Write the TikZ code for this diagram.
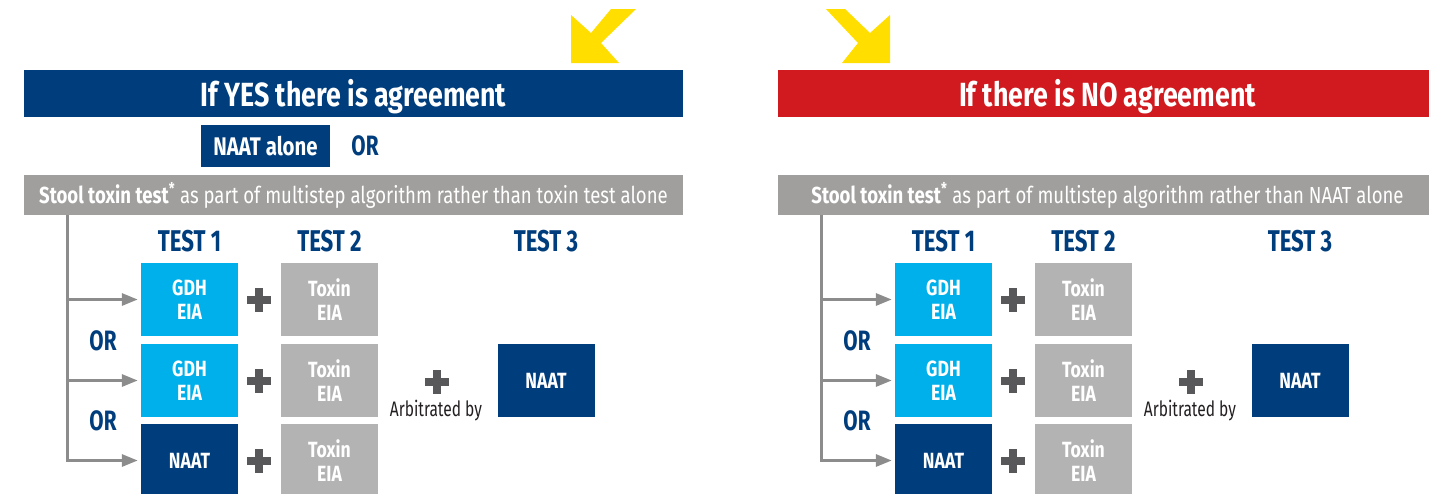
\documentclass[tikz,border=0pt]{standalone}
\usepackage{fontspec}
\setmainfont{Fira Sans}[FakeStretch=0.74]
\newfontfamily\widefont{Fira Sans}[FakeStretch=0.8]
\usetikzlibrary{arrows.meta}

\definecolor{navy}{HTML}{003D7C}
\definecolor{alarm}{HTML}{D01A1F}
\definecolor{sky}{HTML}{00B0EA}
\definecolor{bandgray}{HTML}{A09F9D}
\definecolor{boxgray}{HTML}{B3B3B3}
\definecolor{plusgray}{HTML}{58585A}
\definecolor{linegray}{HTML}{8C8C8C}
\definecolor{sun}{HTML}{FFDE00}
\definecolor{ink}{HTML}{231F20}

% one panel of the decision chart: #1 name prefix, #2 horizontal offset,
% #3 heading, #4 heading colour, #5 text of the grey band
\newcommand\testpanel[5]{%
\begin{scope}[xshift=#2]
  \node[heading, fill=#4] (#1-title) at (353.5,93.5) {#3};
  \node[band] (#1-band) at (353.5,195) {#5};
  \node[testhead] (#1-h1) at (189.5,241) {TEST 1};
  \node[testhead] (#1-h2) at (329.5,241) {TEST 2};
  \node[testhead] (#1-h3) at (546,241) {TEST 3};
  \node[gdhbox]  (#1-a1) at (189.5,299.5) {GDH\\EIA};
  \node[toxbox]  (#1-b1) at (329.5,299.5) {Toxin\\EIA};
  \node[gdhbox]  (#1-a2) at (189.5,380.5) {GDH\\EIA};
  \node[toxbox]  (#1-b2) at (329.5,380.5) {Toxin\\EIA};
  \node[naatbox] (#1-a3) at (189.5,460.5) {NAAT};
  \node[toxbox]  (#1-b3) at (329.5,460.5) {Toxin\\EIA};
  \node[naatbox] (#1-c2) at (546,380.5) {NAAT};
  \node[plussign] (#1-p1) at (259,300) {};
  \node[plussign] (#1-p2) at (259,381) {};
  \node[plussign] (#1-p3) at (259,461) {};
  \node[plussign] (#1-pm) at (437,382) {};
  \node[arb] (#1-arb) at (436,416) {Arbitrated by};
  \node[ortext] (#1-or1) at (103,341) {OR};
  \node[ortext] (#1-or2) at (103,421) {OR};
  \coordinate (#1-root) at (67,215);
  \draw[flow] (#1-root) |- (#1-a3.west);
  \draw[flow] (#1-root |- #1-a1.west) -- (#1-a1.west);
  \draw[flow] (#1-root |- #1-a2.west) -- (#1-a2.west);
\end{scope}}

\begin{document}
\begin{tikzpicture}[x=1pt, y=-1pt,
  heading/.style={minimum width=659pt, minimum height=47pt, inner sep=0pt,
    text height=25pt, text depth=0pt,
    text=white, font=\widefont\bfseries\fontsize{33.5}{36}\selectfont},
  band/.style={minimum width=659pt, minimum height=40pt, inner sep=0pt,
    fill=bandgray, text=white, font=\widefont\fontsize{23.2}{26}\selectfont},
  testhead/.style={text=navy, inner sep=0pt, font=\bfseries\fontsize{30}{32}\selectfont},
  ortext/.style={text=navy, inner sep=0pt, font=\bfseries\fontsize{28}{30}\selectfont},
  arb/.style={anchor=base, inner sep=0pt, text=ink, font=\fontsize{21}{24}\selectfont},
  box/.style={minimum width=97pt, minimum height=73pt, inner sep=0pt, align=center,
    text=white, font=\widefont\bfseries\fontsize{22}{24}\selectfont},
  gdhbox/.style={box, fill=sky},
  toxbox/.style={box, fill=boxgray},
  naatbox/.style={box, fill=navy},
  plussign/.style={minimum size=24pt, inner sep=0pt,
    path picture={
      \fill[plusgray] ([xshift=-12pt,yshift=-4pt]path picture bounding box.center)
        rectangle ([xshift=12pt,yshift=4pt]path picture bounding box.center);
      \fill[plusgray] ([xshift=-4pt,yshift=-12pt]path picture bounding box.center)
        rectangle ([xshift=4pt,yshift=12pt]path picture bounding box.center);}},
  flow/.style={draw=linegray, line width=3pt, shorten >=3pt,
    -{Triangle[length=16pt,width=12pt]}}]
\useasboundingbox (0,0) rectangle (1429,493);

% yellow pointers into the two outcomes
\fill[sun] (571,63) -- (571,15) -- (591,33) -- (611,9) -- (636,9)
  -- (601,43) -- (619,63) -- cycle;
\fill[sun] (890,63) -- (890,15) -- (870,33) -- (845,9) -- (826,9)
  -- (858,43) -- (842,63) -- cycle;

\testpanel{yes}{0pt}{If YES there is agreement}{navy}
  {\textbf{Stool toxin test}\textsuperscript{\textbf{*}} as part of multistep algorithm rather than toxin test alone}
\testpanel{no}{754pt}{If there is NO agreement}{alarm}
  {\textbf{Stool toxin test}\textsuperscript{\textbf{*}} as part of multistep algorithm rather than NAAT alone}

\node[naatbox, minimum width=129pt, minimum height=42pt,
  font=\widefont\bfseries\fontsize{25.5}{27}\selectfont] (naatalone) at (265.5,146) {NAAT alone};
\node[ortext] (or0) at (365,146) {OR};
\end{tikzpicture}
\end{document}
